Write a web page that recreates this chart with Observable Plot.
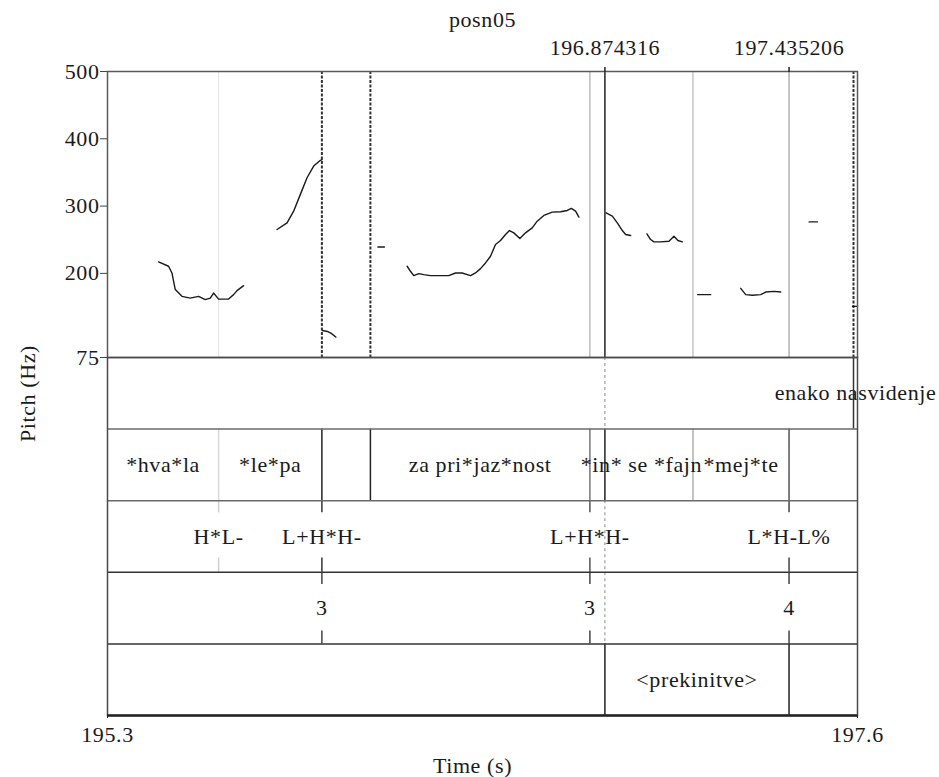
<!DOCTYPE html>
<html>
<head>
<meta charset="utf-8">
<script src="https://cdn.jsdelivr.net/npm/d3@7"></script>
<script src="https://cdn.jsdelivr.net/npm/@observablehq/plot@0.6"></script>
<style>
  html, body { margin: 0; padding: 0; background: #fff; }
  #chart svg { display: block; }
  #chart svg, #chart svg text, #chart svg g {
    font-family: "Liberation Serif", "Times New Roman", "DejaVu Serif", serif !important;
  }
  #chart svg text { letter-spacing: 0.6px; }
</style>
</head>
<body>
<div id="chart"></div>
<script>
// ---------------- DATA ----------------
const chartTitle = "posn05";
const timeDomain = [195.3593, 197.6437];
const timeTickLabels = ["195.3", "197.6"];
const timeLabel = "Time (s)";
const pitchLabel = "Pitch (Hz)";
const pitchDomain = [75, 500];
const pitchTicks = [500, 400, 300, 200, 75];
const topMarks = [196.874316, 197.435206];

// pitch contour pieces: [time (s), pitch (Hz)]
const contourHvala = [[195.5148,217],[195.5453,210.6],[195.5556,200.6],[195.5657,175.9],[195.5861,165.9],[195.6114,163.3],[195.6367,165.9],[195.6571,161],[195.6724,163.3],[195.6824,170.8],[195.6977,161.8],[195.7281,161.8],[195.7434,168.4],[195.7538,174.4],[195.7739,181.8]];
const contourLepa = [[195.8757,265.2],[195.9062,275.1],[195.9263,292.5],[195.9467,317.4],[195.9671,342.1],[195.9873,359.5],[196.0077,368],[196.0129,369]];
const contourLepaTail = [[196.0138,115.2],[196.0290,113.7],[196.0397,111.2],[196.0549,105.5]];
const contourBlip = [[196.1830,239.3],[196.2028,239.3]];
const contourZaprijaznost = [[196.2720,210.6],[196.2820,203.1],[196.2921,196.7],[196.3073,199.7],[196.3226,198.2],[196.3430,196.7],[196.3735,196.7],[196.3988,196.7],[196.4192,200.6],[196.4396,200.6],[196.4549,198.2],[196.4649,196.7],[196.4802,200.6],[196.4954,207.1],[196.5107,215.5],[196.5259,225.5],[196.5411,242.9],[196.5564,248.8],[196.5716,257.8],[196.5838,263.7],[196.5969,260.2],[196.6152,251.8],[196.6326,260.2],[196.6530,267.6],[196.6682,277.6],[196.6884,286.1],[196.7140,291],[196.7393,291.5],[196.7597,293.5],[196.7719,296.5],[196.7850,292.5],[196.7951,283.6]];
const contourIn = [[196.8780,290],[196.8969,285],[196.9121,275.1],[196.9274,263.7],[196.9374,257.8],[196.9527,256.3]];
const contourSe = [[197.0023,258.7],[197.0136,250.3],[197.0237,246.8],[197.0441,246.8],[197.0694,247.8],[197.0846,255.3],[197.0968,248.8],[197.1103,246.8]];
const contourFajn = [[197.1569,168.4],[197.1965,168.4]];
const contourMejte = [[197.2880,177.8],[197.3032,168.4],[197.3236,167.4],[197.3489,168.4],[197.3642,172.3],[197.3895,173.3],[197.4099,172.3]];
const contourEnako = [[197.4962,276.5],[197.5218,276.5]];
const contourEnd = [[197.6285,151],[197.6437,151]];

// TextGrid tiers
const tier1Bounds = [197.6315];
const tier1Labels = ["", "enako nasvidenje"];
const tier2Bounds = [195.6977, 196.0123, 196.1601, 196.8286, 197.1426, 197.4352];
const tier2Labels = ["*hva*la", "*le*pa", "", "za pri*jaz*nost", "*in* se *fajn", "*mej*te", ""];
const tier3Points = [195.6977, 196.0123, 196.8286, 197.4352];
const tier3Labels = ["H*L-", "L+H*H-", "L+H*H-", "L*H-L%"];
const tier4Points = [196.0123, 196.8286, 197.4352];
const tier4Labels = ["3", "3", "4"];
const tier5Bounds = [196.8743, 197.4352];
const tier5Labels = ["", "<prekinitve>", ""];

// ---------------- RENDER ----------------
const W = 939, ML = 107, MR = 82;
const FONT = "'Liberation Serif', 'Times New Roman', 'DejaVu Serif', serif";
const FS = 22;
const ink = "#1a1a1a";

const contours = [contourHvala, contourLepa, contourLepaTail, contourBlip, contourZaprijaznost,
  contourIn, contourSe, contourFajn, contourMejte, contourEnako, contourEnd];
const pitchRows = contours.flatMap((s, k) => s.map(([t, f]) => ({t, f, seg: k})));

function intervals(bounds, labels) {
  const edges = [timeDomain[0], ...bounds, timeDomain[1]];
  return labels.map((label, i) => ({label, mid: (edges[i] + edges[i + 1]) / 2})).filter(d => d.label);
}

// shades of the boundary lines (style only)
const tier2Shade = ["#d8d8d8", "#222", "#222", "#777", "#b0b0b0", "#555"];
const pointShade3 = ["#cfcfcf", "#333", "#555", "#444"];

const pitchDashed = [tier2Bounds[1], tier2Bounds[2], tier1Bounds[0]];
const pitchLight = [tier2Bounds[0], tier2Bounds[3], tier2Bounds[4], tier2Bounds[5]];
const pitchLightShade = ["#e4e4e4", "#9a9a9a", "#a8a8a8", "#8a8a8a"];

const svgStyle = {fontFamily: FONT, fontSize: FS + "px", overflow: "visible", color: ink};
const txt = {fontFamily: FONT, fontSize: FS, fill: ink};

const pitchPlot = Plot.plot({
  width: W, height: 357,
  marginLeft: ML, marginRight: MR, marginTop: 71, marginBottom: 0,
  style: svgStyle,
  x: {domain: timeDomain},
  y: {domain: pitchDomain},
  marks: [
    Plot.ruleX(pitchLight, {stroke: (d, i) => pitchLightShade[i], strokeWidth: 1}),
    Plot.ruleX(pitchDashed, {stroke: "#333", strokeWidth: 2, strokeDasharray: "3,1.5"}),
    Plot.ruleX([topMarks[0]], {stroke: "#222", strokeWidth: 1.5}),
    Plot.line(pitchRows, {x: "t", y: "f", z: "seg", stroke: "#1a1a1a", strokeWidth: 1.4, curve: "linear"}),
    Plot.frame({stroke: "#5a5a5a", strokeWidth: 1.5}),
    Plot.axisY(pitchTicks, {tickSize: 7, tickPadding: 1, label: null, ...txt, stroke: "#444"}),
    Plot.axisX(topMarks, {anchor: "top", tickSize: 5, tickPadding: 12, label: null, ...txt,
      tickFormat: d => d.toFixed(6), stroke: "#222", strokeWidth: 1.5}),
    Plot.text([chartTitle], {text: d => d, frameAnchor: "top", dy: -52, lineAnchor: "middle", ...txt})
  ]
});

const tierPlot = Plot.plot({
  width: W, height: 420,
  marginLeft: ML, marginRight: MR, marginTop: 0, marginBottom: 62,
  style: svgStyle,
  x: {domain: timeDomain},
  y: {domain: [0, 5], reverse: true, axis: null},
  marks: [
    Plot.ruleX([topMarks[0]], {y1: 0, y2: 1, stroke: "#8a8a8a", strokeWidth: 1, strokeDasharray: "3,3"}),
    Plot.ruleX([topMarks[0]], {y1: 2, y2: 4, stroke: "#8a8a8a", strokeWidth: 1, strokeDasharray: "3,3"}),
    Plot.ruleX(tier1Bounds, {y1: 0, y2: 1, stroke: "#333", strokeWidth: 1.5}),
    Plot.text(intervals(tier1Bounds, tier1Labels), {x: "mid", y: 0.5, text: "label", lineAnchor: "middle", ...txt}),
    Plot.ruleX(tier2Bounds, {y1: 1, y2: 2, stroke: (d, i) => tier2Shade[i], strokeWidth: 1.5}),
    Plot.ruleX([topMarks[0]], {y1: 1, y2: 2, stroke: "#222", strokeWidth: 1.5}),
    Plot.text(intervals(tier2Bounds, tier2Labels), {x: "mid", y: 1.5, text: "label", lineAnchor: "middle", ...txt}),
    Plot.ruleX(tier3Points, {y1: 2, y2: 2.17, stroke: (d, i) => pointShade3[i], strokeWidth: 1.5}),
    Plot.ruleX(tier3Points, {y1: 2.8, y2: 3, stroke: (d, i) => pointShade3[i], strokeWidth: 1.5}),
    Plot.text(tier3Points, {x: d => d, y: 2.5, text: (d, i) => tier3Labels[i], lineAnchor: "middle", ...txt}),
    Plot.ruleX(tier4Points, {y1: 3, y2: 3.17, stroke: "#444", strokeWidth: 1.5}),
    Plot.ruleX(tier4Points, {y1: 3.82, y2: 4, stroke: "#444", strokeWidth: 1.5}),
    Plot.text(tier4Points, {x: d => d, y: 3.5, text: (d, i) => tier4Labels[i], lineAnchor: "middle", ...txt}),
    Plot.ruleX(tier5Bounds, {y1: 4, y2: 5, stroke: "#222", strokeWidth: 1.5}),
    Plot.text(intervals(tier5Bounds, tier5Labels), {x: "mid", y: 4.5, text: "label", lineAnchor: "middle", ...txt}),
    Plot.ruleY([1, 2], {stroke: "#6a6a6a", strokeWidth: 1.5}),
    Plot.ruleY([3, 4], {stroke: "#333", strokeWidth: 1.5}),
    Plot.frame({stroke: "#4a4a4a", strokeWidth: 1.5}),
    Plot.ruleY([5], {stroke: "#222", strokeWidth: 2.5}),
    Plot.axisX(timeDomain, {anchor: "bottom", tickSize: 3, tickPadding: 8, label: null, ...txt,
      tickFormat: d => timeTickLabels[timeDomain.indexOf(d)], stroke: "#222"}),
    Plot.text([timeLabel], {text: d => d, frameAnchor: "bottom", dx: -10, dy: 50, lineAnchor: "middle", ...txt}),
    Plot.text([pitchLabel], {text: d => d, frameAnchor: "top-left", dx: -80, dy: 36, rotate: -90,
      textAnchor: "middle", lineAnchor: "middle", ...txt})
  ]
});

const root = document.getElementById("chart");
root.append(pitchPlot, tierPlot);
</script>
</body>
</html>
